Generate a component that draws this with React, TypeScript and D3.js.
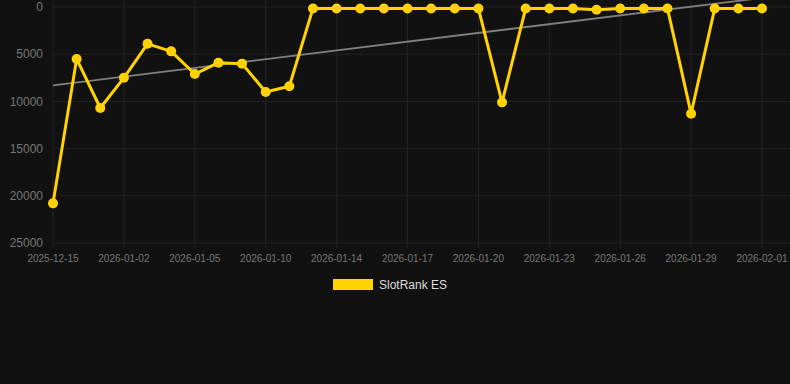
import React from "react";
import * as d3 from "d3";

const categories = [
  "2025-12-15","2025-12-16","2025-12-31","2026-01-02","2026-01-03","2026-01-04",
  "2026-01-05","2026-01-06","2026-01-07","2026-01-10","2026-01-11","2026-01-12",
  "2026-01-14","2026-01-15","2026-01-16","2026-01-17","2026-01-18","2026-01-19",
  "2026-01-20","2026-01-21","2026-01-22","2026-01-23","2026-01-24","2026-01-25",
  "2026-01-26","2026-01-27","2026-01-28","2026-01-29","2026-01-30","2026-01-31",
  "2026-02-01",
];
const rankValues = [
  20800, 5500, 10700, 7500, 3900, 4700, 7100, 5900, 6000, 9000, 8400, 150,
  150, 150, 150, 150, 150, 150, 150, 10100, 150, 150, 150, 300,
  150, 150, 150, 11300, 150, 150, 150,
];
const yTicks = [0, 5000, 10000, 15000, 20000, 25000];
const seriesName = "SlotRank ES";

const W = 790;
const H = 384;
const left = 53;
const right = 762;
const top = 7;
const bottom = 243;

export default function App() {
  const x = d3.scalePoint<string>().domain(categories).range([left, right]);
  const y = d3.scaleLinear().domain([0, 25000]).range([top, bottom]);

  const n = rankValues.length;
  const idx = d3.range(n);
  const mx = d3.mean(idx) as number;
  const my = d3.mean(rankValues) as number;
  const sxy = d3.sum(idx, (i) => (i - mx) * (rankValues[i] - my));
  const sxx = d3.sum(idx, (i) => (i - mx) * (i - mx));
  const slope = sxy / sxx;
  const intercept = my - slope * mx;

  const line = d3
    .line<number>()
    .x((_, i) => x(categories[i]) as number)
    .y((d) => y(d));

  const labelIdx = idx.filter((i) => i % 3 === 0);

  return (
    <div style={{ position: "fixed", left: 0, top: 0, width: W, height: H, background: "#111111" }}>
      <svg width={W} height={H} style={{ display: "block", fontFamily: "Arial, 'Liberation Sans', sans-serif" }}>
        <rect width={W} height={H} fill="#111111" />
        {yTicks.map((t) => (
          <line key={"gy" + t} x1={left} x2={right + 28} y1={y(t)} y2={y(t)} stroke="#232323" strokeWidth={1} />
        ))}
        {labelIdx.map((i) => (
          <line key={"gx" + i} x1={x(categories[i])} x2={x(categories[i])} y1={top - 7} y2={bottom + 5} stroke="#232323" strokeWidth={1} />
        ))}
        {yTicks.map((t) => (
          <text key={"ty" + t} x={43} y={y(t)} dy="0.35em" textAnchor="end" fontSize={12} fill="#777">
            {t}
          </text>
        ))}
        {labelIdx.map((i) => (
          <text key={"tx" + i} x={x(categories[i])} y={bottom + 19} textAnchor="middle" fontSize={10} fill="#777">
            {categories[i]}
          </text>
        ))}
        <line
          x1={x(categories[0])}
          x2={x(categories[n - 1])}
          y1={y(intercept)}
          y2={y(intercept + slope * (n - 1))}
          stroke="#808080"
          strokeWidth={1.8}
        />
        <path d={line(rankValues) || ""} fill="none" stroke="#FFD200" strokeWidth={3} strokeLinejoin="round" />
        {rankValues.map((v, i) => (
          <circle key={"p" + i} cx={x(categories[i])} cy={y(v)} r={5} fill="#FFD200" />
        ))}
        <rect x={333} y={279} width={40} height={11} fill="#FFD200" />
        <text x={379} y={289} fontSize={12} fill="#dddddd">
          {seriesName}
        </text>
      </svg>
    </div>
  );
}
